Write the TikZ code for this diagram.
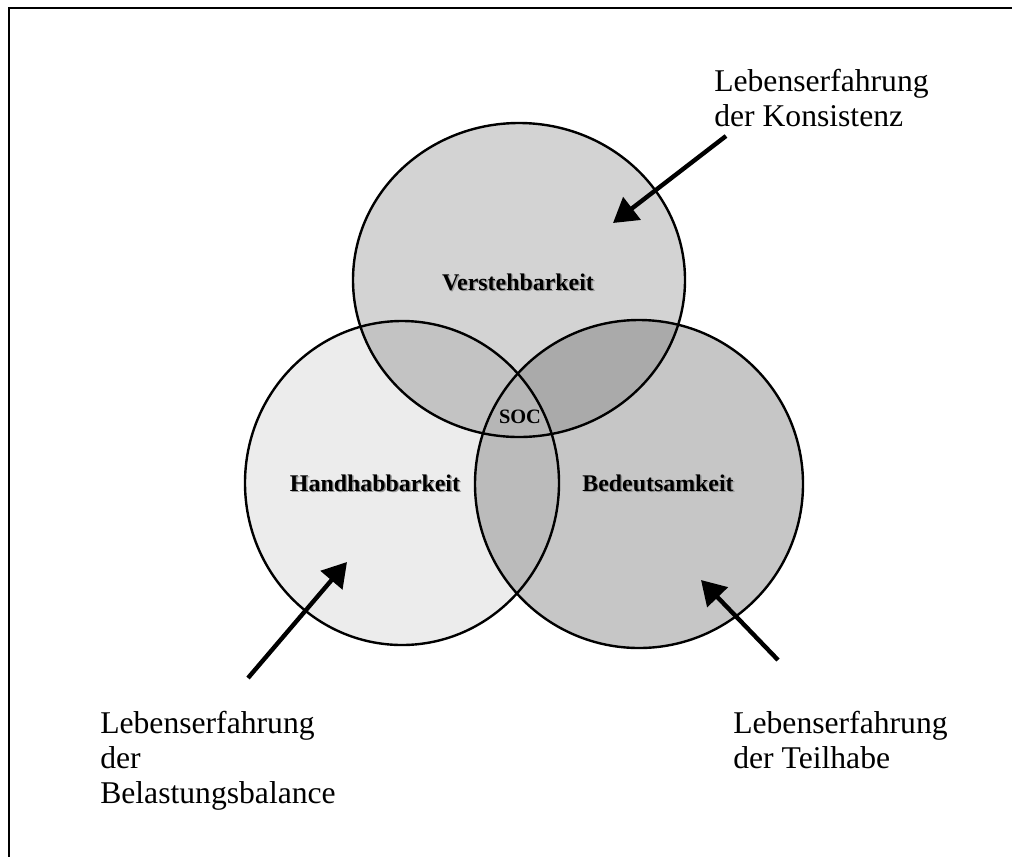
\documentclass[tikz,border=0pt]{standalone}
\usepackage{fontspec}
\setmainfont{Liberation Serif}
\usetikzlibrary{arrows.meta}
\definecolor{grTop}{RGB}{211,211,211}
\definecolor{grLeft}{RGB}{236,236,236}
\definecolor{grRight}{RGB}{198,198,198}
\definecolor{grTL}{RGB}{195,195,195}
\definecolor{grTR}{RGB}{170,170,170}
\definecolor{grLR}{RGB}{187,187,187}
\definecolor{grSoc}{RGB}{182,182,182}
\newcommand{\shtext}[1]{\makebox[0pt][l]{\kern1pt\raisebox{-1pt}{\color{black!40}#1}}#1}
\begin{document}
\begin{tikzpicture}[x=0.025cm,y=-0.025cm,
    ring/.style={line width=0.06cm},
    pointer/.style={line width=0.11cm,-{Triangle[length=0.6cm,width=0.7cm]}},
    dim/.style={font=\bfseries\fontsize{17}{20}\selectfont},
    story/.style={font=\fontsize{22.5}{24.9}\selectfont,align=left,anchor=north west,inner sep=0pt}]
    \useasboundingbox (0,0) rectangle (1012,857);
    \def\verstC{(519,280) ellipse [x radius=166,y radius=157]}
    \def\handhC{(402,483) ellipse [x radius=157,y radius=162]}
    \def\bedeutC{(639,484) ellipse [x radius=164,y radius=164]}
    \draw[line width=0.067cm] (1012,8) -- (9,8) -- (9,857);
    \fill[grTop] \verstC;
    \fill[grLeft] \handhC;
    \fill[grRight] \bedeutC;
    \begin{scope}
        \clip \handhC;
        \fill[grLR] \bedeutC;
    \end{scope}
    \begin{scope}
        \clip \verstC;
        \fill[grTL] \handhC;
        \fill[grTR] \bedeutC;
        \clip \handhC;
        \fill[grSoc] \bedeutC;
    \end{scope}
    \draw[ring] \verstC;
    \draw[ring] \handhC;
    \draw[ring] \bedeutC;
    \node[dim] (verst) at (518,283) {\shtext{Verstehbarkeit}};
    \node[dim] (handh) at (375,484) {\shtext{Handhabbarkeit}};
    \node[dim] (bedeut) at (658,484) {\shtext{Bedeutsamkeit}};
    \node[font=\bfseries\fontsize{14.5}{17}\selectfont] (soc) at (520,417) {SOC};
    \node[story] (erfKons) at (714,69) {Lebenserfahrung\\der Konsistenz};
    \node[story] (erfBel) at (100,711) {Lebenserfahrung\\der\\Belastungsbalance};
    \node[story] (erfTeil) at (733,711) {Lebenserfahrung\\der Teilhabe};
    \coordinate (tailK) at (726,136);
    \coordinate (tipK) at (613,223);
    \coordinate (tailB) at (248,678);
    \coordinate (tipB) at (347,562);
    \coordinate (tailT) at (778,660);
    \coordinate (tipT) at (701,580);
    \draw[pointer] (tailK) -- (tipK);
    \draw[pointer] (tailB) -- (tipB);
    \draw[pointer] (tailT) -- (tipT);
\end{tikzpicture}
\end{document}
